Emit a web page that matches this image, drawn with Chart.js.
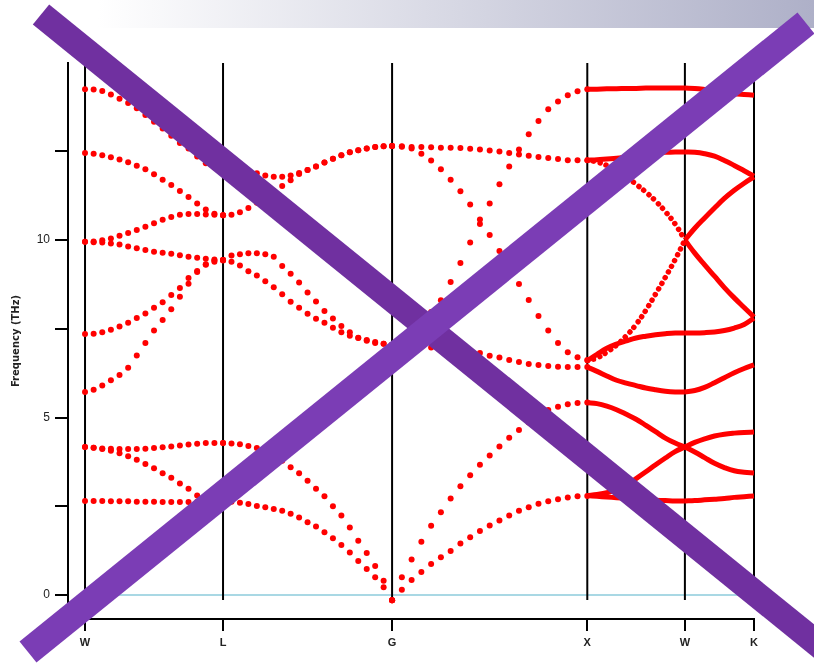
<!DOCTYPE html>
<html>
<head>
<meta charset="utf-8">
<script src="https://cdn.jsdelivr.net/npm/chart.js@4"></script>
<style>
  html, body { margin: 0; padding: 0; background: #fff; }
  #wrap { position: relative; width: 814px; height: 663px; overflow: hidden; }
  #header { position: absolute; left: 0; top: 0; width: 814px; height: 28px;
    background: linear-gradient(to right, #ffffff 0%, #ffffff 12%, #aeb0c8 100%); }
  #chart1 { position: absolute; left: 0; top: 0; }
  #cross { position: absolute; left: 0; top: 0; pointer-events: none; }
</style>
</head>
<body>
<div id="wrap">
  <div id="header"></div>
  <canvas id="chart1" width="814" height="663"></canvas>
  <svg id="cross" width="814" height="663">
    <line x1="41" y1="14.5" x2="830" y2="654" stroke="#7030a0" stroke-width="26"/>
    <line x1="806" y1="23" x2="28" y2="652" stroke="#7b3db5" stroke-width="27"/>
  </svg>
</div>
<script>
// high symmetry points, path length in 2pi/a
const kPoints = [0, 0.707, 1.573, 2.573, 3.073, 3.427];
const kLabels = ['W', 'L', 'G', 'X', 'W', 'K'];
const yTicks = [0, 2.5, 5, 7.5, 10, 12.5];
// vertical extent of the symmetry lines (THz)
const symLineRange = [-0.14, 14.986];

// frequencies (THz), equally spaced q-points on each segment
const bandsWL = [
    [14.25, 14.24, 14.20, 14.10, 13.98, 13.86, 13.71, 13.52, 13.33, 13.14, 12.94, 12.73, 12.58, 12.35, 12.16, 12.04, 11.98],
    [12.45, 12.43, 12.39, 12.33, 12.27, 12.19, 12.09, 11.99, 11.85, 11.70, 11.55, 11.38, 11.21, 11.03, 10.86, 10.74, 10.70],
    [9.95, 9.96, 9.99, 10.04, 10.12, 10.20, 10.28, 10.37, 10.47, 10.57, 10.65, 10.71, 10.73, 10.73, 10.72, 10.71, 10.70],
    [9.95, 9.94, 9.93, 9.90, 9.87, 9.82, 9.77, 9.72, 9.67, 9.64, 9.61, 9.57, 9.53, 9.50, 9.47, 9.45, 9.44],
    [7.35, 7.36, 7.40, 7.47, 7.56, 7.67, 7.80, 7.93, 8.09, 8.25, 8.45, 8.65, 8.93, 9.13, 9.32, 9.42, 9.44],
    [5.72, 5.78, 5.90, 6.05, 6.20, 6.40, 6.75, 7.10, 7.45, 7.75, 8.05, 8.40, 8.77, 9.10, 9.30, 9.39, 9.42],
    [4.17, 4.15, 4.13, 4.12, 4.11, 4.11, 4.11, 4.12, 4.14, 4.16, 4.18, 4.21, 4.24, 4.26, 4.28, 4.28, 4.28],
    [4.17, 4.15, 4.11, 4.06, 3.99, 3.91, 3.81, 3.69, 3.57, 3.43, 3.30, 3.14, 2.99, 2.80, 2.71, 2.67, 2.65],
    [2.65, 2.65, 2.65, 2.64, 2.64, 2.64, 2.63, 2.63, 2.63, 2.62, 2.62, 2.62, 2.62, 2.63, 2.63, 2.64, 2.65]
];

const bandsLG = [
    [11.98, 11.97, 11.95, 11.92, 11.88, 11.82, 11.78, 11.78, 11.82, 11.89, 11.97, 12.07, 12.18, 12.29, 12.39, 12.47, 12.53, 12.58, 12.62, 12.64, 12.65],
    [10.70, 10.71, 10.78, 10.90, 11.05, 11.22, 11.38, 11.52, 11.68, 11.86, 11.97, 12.07, 12.18, 12.29, 12.39, 12.47, 12.53, 12.58, 12.62, 12.64, 12.65],
    [9.44, 9.56, 9.60, 9.63, 9.63, 9.60, 9.53, 9.27, 9.05, 8.80, 8.52, 8.27, 8.00, 7.79, 7.58, 7.40, 7.25, 7.16, 7.10, 7.08, 7.05],
    [9.44, 9.39, 9.28, 9.12, 9.00, 8.84, 8.67, 8.47, 8.26, 8.09, 7.92, 7.78, 7.67, 7.53, 7.40, 7.30, 7.24, 7.18, 7.13, 7.08, 7.05],
    [4.28, 4.27, 4.25, 4.20, 4.14, 4.05, 3.93, 3.78, 3.60, 3.43, 3.22, 2.99, 2.78, 2.50, 2.24, 1.90, 1.53, 1.18, 0.82, 0.40, -0.15],
    [2.65, 2.63, 2.60, 2.56, 2.51, 2.47, 2.42, 2.37, 2.29, 2.18, 2.05, 1.93, 1.77, 1.60, 1.41, 1.20, 0.96, 0.73, 0.50, 0.22, -0.15]
];

const bandsGX = [
    [-0.15, 0.15, 0.42, 0.65, 0.87, 1.06, 1.24, 1.45, 1.63, 1.80, 1.96, 2.10, 2.24, 2.37, 2.47, 2.57, 2.64, 2.70, 2.75, 2.78, 2.79],
    [-0.15, 0.50, 1.00, 1.50, 1.95, 2.33, 2.72, 3.06, 3.37, 3.67, 3.93, 4.18, 4.43, 4.65, 4.86, 5.07, 5.21, 5.30, 5.37, 5.41, 5.42],
    [7.05, 7.04, 7.02, 7.00, 6.97, 6.94, 6.91, 6.88, 6.85, 6.82, 6.74, 6.69, 6.62, 6.56, 6.51, 6.48, 6.45, 6.43, 6.42, 6.42, 6.42],
    [7.05, 7.20, 7.45, 7.70, 7.97, 8.30, 8.82, 9.35, 9.93, 10.45, 11.03, 11.57, 12.07, 12.55, 12.98, 13.35, 13.68, 13.90, 14.08, 14.19, 14.25],
    [12.65, 12.63, 12.62, 12.62, 12.61, 12.60, 12.60, 12.59, 12.57, 12.55, 12.52, 12.49, 12.45, 12.41, 12.37, 12.34, 12.31, 12.28, 12.25, 12.25, 12.25],
    [12.65, 12.64, 12.58, 12.43, 12.24, 11.99, 11.70, 11.37, 11.00, 10.58, 10.14, 9.69, 9.22, 8.76, 8.31, 7.86, 7.45, 7.10, 6.84, 6.70, 6.62]
];

const bandsXW = [
    [14.25, 14.25, 14.26, 14.26, 14.27, 14.27, 14.28, 14.28, 14.28, 14.28, 14.28],
    [12.25, 12.26, 12.28, 12.30, 12.34, 12.38, 12.42, 12.45, 12.47, 12.48, 12.48],
    [12.25, 12.20, 12.10, 11.95, 11.78, 11.57, 11.35, 11.10, 10.80, 10.45, 10.00],
    [6.60, 6.68, 6.84, 7.04, 7.30, 7.62, 8.02, 8.48, 8.95, 9.45, 10.00],
    [6.60, 6.78, 6.95, 7.07, 7.16, 7.24, 7.29, 7.33, 7.36, 7.38, 7.38],
    [6.42, 6.30, 6.17, 6.05, 5.97, 5.90, 5.83, 5.78, 5.74, 5.72, 5.72],
    [5.42, 5.39, 5.32, 5.22, 5.09, 4.95, 4.78, 4.60, 4.42, 4.28, 4.17],
    [2.80, 2.83, 2.88, 2.97, 3.10, 3.28, 3.47, 3.67, 3.86, 4.04, 4.17],
    [2.80, 2.78, 2.76, 2.74, 2.72, 2.70, 2.68, 2.67, 2.66, 2.65, 2.65]
];
// dotted (steep) branches on X-W
const dottedXW = [2, 3];

const bandsWK = [
    [14.28, 14.27, 14.24, 14.20, 14.16, 14.12, 14.10, 14.08],
    [12.48, 12.47, 12.43, 12.36, 12.24, 12.10, 11.95, 11.80],
    [10.00, 10.33, 10.62, 10.90, 11.17, 11.40, 11.60, 11.78],
    [10.00, 9.63, 9.30, 8.98, 8.66, 8.37, 8.10, 7.83],
    [7.38, 7.38, 7.39, 7.41, 7.45, 7.52, 7.62, 7.80],
    [5.72, 5.76, 5.85, 5.98, 6.12, 6.26, 6.38, 6.48],
    [4.17, 4.30, 4.40, 4.48, 4.53, 4.56, 4.58, 4.59],
    [4.17, 4.03, 3.87, 3.71, 3.59, 3.50, 3.46, 3.44],
    [2.65, 2.66, 2.68, 2.70, 2.72, 2.75, 2.77, 2.79]
];

const zeroLine = [0, 0];

const segments = [
    {start: 0, bands: bandsWL, dense: false},
    {start: 1, bands: bandsLG, dense: false},
    {start: 2, bands: bandsGX, dense: false},
    {start: 3, bands: bandsXW, dense: true, dotted: dottedXW},
    {start: 4, bands: bandsWK, dense: true}
];

const datasets = [];

datasets.push({
    data: [
        {x: kPoints[0], y: zeroLine[0]},
        {x: kPoints[kPoints.length - 1], y: zeroLine[1]}],
    showLine: true,
    borderColor: "#a9d8e4",
    borderWidth: 2,
    pointRadius: 0,
    order: 10
});

// vertical lines at the symmetry points
kPoints.forEach(k => {
    datasets.push({
        data: [{x: k, y: symLineRange[0]}, {x: k, y: symLineRange[1]}],
        showLine: true,
        borderColor: "#000",
        borderWidth: 2,
        pointRadius: 0,
        clip: false,
        order: 5
    });
});

segments.forEach(seg => {
    let k0 = kPoints[seg.start];
    let k1 = kPoints[seg.start + 1];
    seg.bands.forEach((band, b) => {
        let pts = band.map((f, i) => ({x: k0 + (k1 - k0) * i / (band.length - 1), y: f}));
        if (!seg.dense) {
            datasets.push({
                data: pts,
                showLine: false,
                pointRadius: 3,
                pointBackgroundColor: "#ff0000",
                pointBorderWidth: 0,
                order: 1
            });
        } else if (seg.dotted && seg.dotted.includes(b)) {
            datasets.push({
                data: pts,
                showLine: true,
                tension: 0.4,
                borderColor: "#ff0000",
                borderWidth: 5.5,
                borderDash: [0.01, 6.5],
                borderCapStyle: 'round',
                pointRadius: 0,
                clip: false,
                order: 1
            });
        } else {
            datasets.push({
                data: pts,
                showLine: true,
                tension: 0.4,
                borderColor: "#ff0000",
                borderWidth: 5,
                pointRadius: 0,
                clip: false,
                order: 1
            });
        }
    });
});

let chart1 = document.getElementById("chart1");

new Chart(chart1, {
    type: 'scatter',
    data: { datasets: datasets },
    options: {
        responsive: false,
        animation: false,
        layout: {
            padding: {top: 63, right: 60, left: 0, bottom: 0}
        },
        plugins: {
            legend: { display: false },
            tooltip: { enabled: false }
        },
        scales: {
            x: {
                type: 'linear',
                min: -0.0872,
                max: 3.427,
                afterBuildTicks: scale => {
                    scale.ticks = kPoints.map(v => ({value: v}));
                },
                afterFit: scale => { scale.height = 44; },
                ticks: {
                    autoSkip: false,
                    maxRotation: 0,
                    padding: 5,
                    color: "#222",
                    font: {family: "Liberation Sans", size: 11, weight: 'bold'},
                    callback: (v, i) => kLabels[i]
                },
                grid: {
                    drawOnChartArea: false,
                    color: "#000",
                    lineWidth: 2,
                    tickLength: 12
                },
                border: { color: "#000", width: 2 }
            },
            y: {
                min: -0.676,
                max: 14.986,
                afterBuildTicks: scale => {
                    scale.ticks = yTicks.map(v => ({value: v}));
                },
                afterFit: scale => { scale.width = 68; },
                title: {
                    text: 'Frequency (THz)',
                    display: true,
                    color: "#222",
                    padding: {top: 10, bottom: 0},
                    font: {family: "DejaVu Sans", size: 10, weight: 'bold'}
                },
                ticks: {
                    padding: 5,
                    color: "#222",
                    font: {family: "Liberation Sans", size: 12},
                    callback: v => (v % 5 === 0 ? String(v) : '')
                },
                grid: {
                    drawOnChartArea: false,
                    color: "#000",
                    lineWidth: 2,
                    tickLength: 13
                },
                border: { color: "#000", width: 2 }
            }
        }
    }
});
</script>
</body>
</html>
